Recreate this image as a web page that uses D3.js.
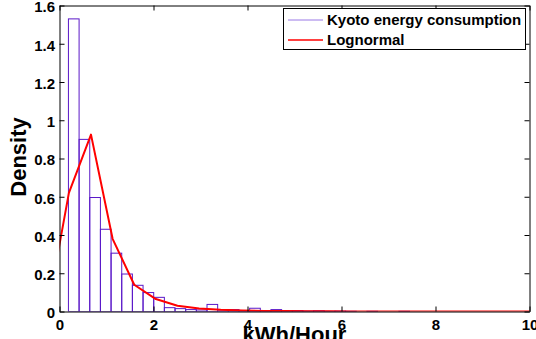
<!DOCTYPE html>
<html><head><meta charset="utf-8">
<script src="https://cdn.jsdelivr.net/npm/d3@7"></script>
<style>
html,body{margin:0;padding:0;background:#fff;}
svg{display:block;font-family:"Liberation Sans",Arial,Helvetica,sans-serif;}
</style></head>
<body>
<script>
// ---- data ----
const xTicks = [0, 2, 4, 6, 8, 10];
const yTicks = [0, 0.2, 0.4, 0.6, 0.8, 1, 1.2, 1.4, 1.6];
const binStart = 0.19;
const binWidth = 0.2268;
const density = [1.53, 0.90, 0.596, 0.43, 0.305, 0.196, 0.137, 0.099, 0.074, 0.02,
  0.015, 0.01, 0.008, 0.037, 0.003, 0.01, 0.004, 0.017, 0.005, 0.01,
  0.004, 0.005, 0.002, 0.004, 0.001, 0.002, 0.001, 0, 0.001, 0,
  0, 0.001, 0, 0, 0, 0, 0, 0, 0, 0, 0, 0, 0];
const fitX = [-0.26, 0.20, 0.67, 1.13, 1.59, 2.05, 2.51, 2.97, 3.43, 3.89, 4.35, 4.81,
  5.27, 5.73, 6.19, 6.65, 7.11, 7.57, 8.03, 8.49, 8.95, 9.41, 9.87, 10.33];
const fitY = [0, 0.62, 0.925, 0.38, 0.14, 0.065, 0.03, 0.016, 0.009, 0.005, 0.003, 0.002,
  0.0012, 0.0008, 0.0005, 0.0003, 0.0002, 0.0001, 0.0001, 0, 0, 0, 0, 0];
const legendLabels = ["Kyoto energy consumption", "Lognormal"];
const xLabel = "kWh/Hour";
const yLabel = "Density";

// ---- layout ----
const W = 536, H = 339;
const x = d3.scaleLinear().domain([0, 10]).range([59.5, 529.5]);
const y = d3.scaleLinear().domain([0, 1.6]).range([311.5, 5.5]);
const barColor = "#5a18c8";
const legendBarColor = "#9a78e6";
const fitColor = "#ff0000";

const svg = d3.select("body").append("svg").attr("width", W).attr("height", H);

svg.append("clipPath").attr("id", "clip").append("rect")
  .attr("x", x(0)).attr("y", y(1.6)).attr("width", x(10) - x(0)).attr("height", y(0) - y(1.6));

const plot = svg.append("g").attr("clip-path", "url(#clip)");

const bins = density.map((d, i) => ({x0: binStart + i * binWidth, x1: binStart + (i + 1) * binWidth, v: d}));
plot.selectAll("rect.bar").data(bins).enter().append("rect")
  .attr("class", "bar")
  .attr("x", d => x(d.x0))
  .attr("width", d => x(d.x1) - x(d.x0))
  .attr("y", d => y(d.v))
  .attr("height", d => y(0) - y(d.v))
  .attr("fill", "none")
  .attr("stroke", barColor)
  .attr("stroke-width", 1);

const fit = fitX.map((v, i) => [v, fitY[i]]);
plot.append("path").datum(fit)
  .attr("d", d3.line().x(d => x(d[0])).y(d => y(d[1])))
  .attr("fill", "none").attr("stroke", fitColor).attr("stroke-width", 2)
  .attr("stroke-linejoin", "round");

// axes
const fontSize = 15;
const gB = svg.append("g").attr("transform", `translate(0,${y(0)})`)
  .call(d3.axisBottom(x).tickValues(xTicks).tickSizeInner(-5).tickSizeOuter(0).tickPadding(8).tickFormat(d3.format("d")));
const gT = svg.append("g").attr("transform", `translate(0,${y(1.6)})`)
  .call(d3.axisTop(x).tickValues(xTicks).tickSizeInner(-5).tickSizeOuter(0).tickFormat(""));
const gL = svg.append("g").attr("transform", `translate(${x(0)},0)`)
  .call(d3.axisLeft(y).tickValues(yTicks).tickSizeInner(-5).tickSizeOuter(0).tickPadding(4.5).tickFormat(d => d3.format("")(+d.toFixed(1))));
const gR = svg.append("g").attr("transform", `translate(${x(10)},0)`)
  .call(d3.axisRight(y).tickValues(yTicks).tickSizeInner(-5).tickSizeOuter(0).tickFormat(""));
[gB, gT, gL, gR].forEach(g => {
  g.selectAll("path.domain").attr("stroke", "#000").attr("stroke-width", 1);
  g.selectAll(".tick line").attr("stroke", "#000");
  g.selectAll("text").attr("fill", "#000").attr("font-size", fontSize).attr("font-weight", "bold")
    .attr("font-family", '"Liberation Sans",Arial,sans-serif');
});
gL.selectAll("text").attr("dy", "0.43em");

// axis titles
svg.append("text").attr("x", (x(0) + x(10)) / 2).attr("y", 341.5)
  .attr("text-anchor", "middle").attr("font-size", 22).attr("font-weight", "bold").text(xLabel);
svg.append("text").attr("transform", "translate(26,157) rotate(-90)")
  .attr("text-anchor", "middle").attr("font-size", 22).attr("font-weight", "bold").text(yLabel);

// legend
const lg = svg.append("g");
lg.append("rect").attr("x", 283.5).attr("y", 8.5).attr("width", 242).attr("height", 41)
  .attr("fill", "#fff").attr("stroke", "#000").attr("stroke-width", 1);
const legColors = [legendBarColor, fitColor];
const legW = [1, 1.5];
legendLabels.forEach((t, i) => {
  const yy = 20 + i * 20;
  lg.append("line").attr("x1", 288).attr("x2", 323).attr("y1", yy).attr("y2", yy)
    .attr("stroke", legColors[i]).attr("stroke-width", legW[i]);
  lg.append("text").attr("x", 327).attr("y", yy).attr("dy", "0.36em")
    .attr("font-size", 15).attr("font-weight", "bold").text(t);
});
</script>
</body></html>
